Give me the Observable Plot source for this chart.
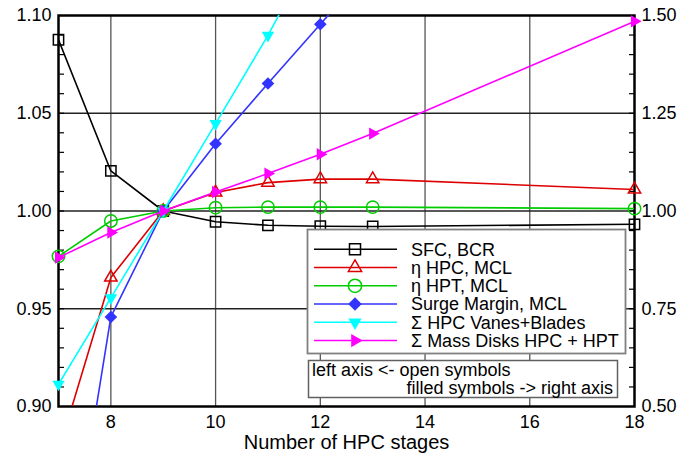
<!DOCTYPE html>
<html>
<head>
<meta charset="utf-8">
<script src="https://cdn.jsdelivr.net/npm/d3@7"></script>
<script src="https://cdn.jsdelivr.net/npm/@observablehq/plot@0.6"></script>
<style>
  html, body { margin: 0; padding: 0; background: #ffffff; }
  #chart { width: 691px; height: 457px; }
</style>
</head>
<body>
<div id="chart"></div>
<script>
// ---- data ----
const stages      = [7, 8, 9, 10, 11, 12, 13, 18];
const sfcBCR      = [1.0876, 1.0205, 1.0, 0.9945, 0.9927, 0.9922, 0.9921, 0.9932];   // left axis
const etaHPC      = [0.877, 0.966, 1.0, 1.0095, 1.0145, 1.0163, 1.0163, 1.011];      // left axis
const etaHPT      = [0.9768, 0.9949, 1.0, 1.0017, 1.002, 1.002, 1.002, 1.0012];      // left axis
const surgeStages = [7, 8, 9, 10, 11, 12, 13];
const surgeMargin = [-0.1, 0.729, 1.0, 1.172, 1.326, 1.4775, 1.63];                 // right axis
const vanesStages = [7, 8, 9, 10, 11, 12];
const vanesBlades = [0.557, 0.778, 1.0, 1.2235, 1.449, 1.70];                       // right axis
const massDisks   = [0.881, 0.945, 1.0, 1.0486, 1.0956, 1.145, 1.198, 1.485];       // right axis

const leftTicks   = [0.90, 0.95, 1.00, 1.05, 1.10];
const xTicks      = [8, 10, 12, 14, 16, 18];
const xGrid       = [8, 10, 12, 14, 16];
const yGrid       = [0.95, 1.00, 1.05];
const minorTicks  = d3.range(91, 110).map(v => v / 100);
const xLabel      = "Number of HPC stages";
const legendNote1 = "left axis <- open symbols";
const legendNote2 = "filled symbols -> right axis";

// right axis value R maps onto the left scale: left = 1 + (R - 1) / 5
const toLeft = R => 1 + (R - 1) / 5;
const toRight = L => 1 + (L - 1) * 5;

const series = [
  {name: "SFC, BCR", xs: stages, ys: sfcBCR, right: false, color: "#000000", symbol: "square", d3sym: d3.symbolSquare, filled: false, r: 5.8, rotate: 0},
  {name: "\u03B7 HPC, MCL", xs: stages, ys: etaHPC, right: false, color: "#dd0000", symbol: "triangle", d3sym: d3.symbolTriangle, filled: false, r: 4.6, rotate: 0},
  {name: "\u03B7 HPT, MCL", xs: stages, ys: etaHPT, right: false, color: "#00cc00", symbol: "circle", d3sym: d3.symbolCircle, filled: false, r: 6.2, rotate: 0},
  {name: "Surge Margin, MCL", xs: surgeStages, ys: surgeMargin, right: true, color: "#3333ff", symbol: "diamond2", d3sym: d3.symbolDiamond2, filled: true, r: 5.7, rotate: 0},
  {name: "\u03A3 HPC Vanes+Blades", xs: vanesStages, ys: vanesBlades, right: true, color: "#00ffff", symbol: "triangle", d3sym: d3.symbolTriangle, filled: true, r: 4.6, rotate: 180},
  {name: "\u03A3 Mass Disks HPC + HPT", xs: stages, ys: massDisks, right: true, color: "#ff00ff", symbol: "triangle", d3sym: d3.symbolTriangle, filled: true, r: 4.6, rotate: 90}
];

const dataMarks = [];
for (const s of series) {
  const pts = s.xs.map((x, i) => ({x, y: s.right ? toLeft(s.ys[i]) : s.ys[i]}));
  dataMarks.push(Plot.line(pts, {x: "x", y: "y", stroke: s.color, strokeWidth: 1.6, clip: true}));
  const visible = pts.filter(p => p.y >= 0.9 - 1e-9 && p.y <= 1.1 + 1e-9);
  dataMarks.push(Plot.dot(visible, {
    x: "x", y: "y", symbol: s.symbol, r: s.r, rotate: s.rotate,
    fill: s.filled ? s.color : "none",
    stroke: s.filled ? "none" : s.color,
    strokeWidth: 1.5
  }));
}

const svg = Plot.plot({
  width: 691,
  height: 457,
  marginLeft: 58,
  marginRight: 57,
  marginTop: 15,
  marginBottom: 51,
  x: {domain: [7, 18]},
  y: {domain: [0.9, 1.1]},
  style: {fontFamily: "'Liberation Sans', Arial, sans-serif", fontSize: "18px", background: "#ffffff", color: "#000000"},
  marks: [
    Plot.gridX(xGrid, {stroke: "#555555", strokeOpacity: 1, strokeWidth: 1.3}),
    Plot.gridY(yGrid, {stroke: "#222222", strokeOpacity: 1, strokeWidth: 1.3}),
    Plot.axisY(minorTicks, {anchor: "left", tickSize: 6, dx: 6, tickFormat: () => "", label: null, strokeWidth: 1.2}),
    Plot.axisY(minorTicks, {anchor: "right", tickSize: 6, dx: -6, tickFormat: () => "", label: null, strokeWidth: 1.2}),
    Plot.axisY(leftTicks, {anchor: "left", tickSize: 0, tickPadding: 7, tickFormat: d3.format(".2f"), label: null}),
    Plot.axisY(leftTicks, {anchor: "right", tickSize: 0, tickPadding: 7, tickFormat: d => d3.format(".2f")(toRight(d)), label: null}),
    Plot.axisX(xTicks, {anchor: "bottom", tickSize: 0, tickPadding: 9, tickFormat: d3.format("d"), label: null}),
    Plot.text([xLabel], {text: d => d, frameAnchor: "bottom", dy: 42, fontSize: 20}),
    Plot.frame({stroke: "#000000", strokeWidth: 2.5}),
    ...dataMarks
  ]
});

document.getElementById("chart").appendChild(svg);

// ---- legend (drawn into the same SVG) ----
const root = d3.select(svg);
const lg = root.append("g")
  .attr("font-family", "'Liberation Sans', Arial, sans-serif")
  .attr("font-size", 18)
  .attr("text-anchor", "start");
lg.append("rect").attr("x", 307.5).attr("y", 229.5).attr("width", 318).attr("height", 124)
  .attr("fill", "#ffffff").attr("stroke", "#808080").attr("stroke-width", 1.8);
series.forEach((s, i) => {
  const cy = 249.3 + i * 18.25;
  lg.append("line").attr("x1", 314).attr("x2", 397).attr("y1", cy).attr("y2", cy)
    .attr("stroke", s.color).attr("stroke-width", 1.6);
  lg.append("path")
    .attr("d", d3.symbol(s.d3sym, Math.PI * s.r * s.r * 1.15)())
    .attr("transform", `translate(355,${cy}) rotate(${s.rotate})`)
    .attr("fill", s.filled ? s.color : "none")
    .attr("stroke", s.filled ? "none" : s.color)
    .attr("stroke-width", 1.5);
  lg.append("text").attr("x", 411).attr("y", cy + 6.2).attr("text-anchor", "start").attr("fill", "#000000").text(s.name);
});
lg.append("rect").attr("x", 308.5).attr("y", 360.5).attr("width", 309).attr("height", 37)
  .attr("fill", "#ffffff").attr("stroke", "#606060").attr("stroke-width", 1.5);
lg.append("text").attr("x", 312).attr("y", 375.8).attr("text-anchor", "start").attr("fill", "#000000").text(legendNote1);
lg.append("text").attr("x", 613).attr("y", 393.6).attr("text-anchor", "end").attr("fill", "#000000").text(legendNote2);
</script>
</body>
</html>
